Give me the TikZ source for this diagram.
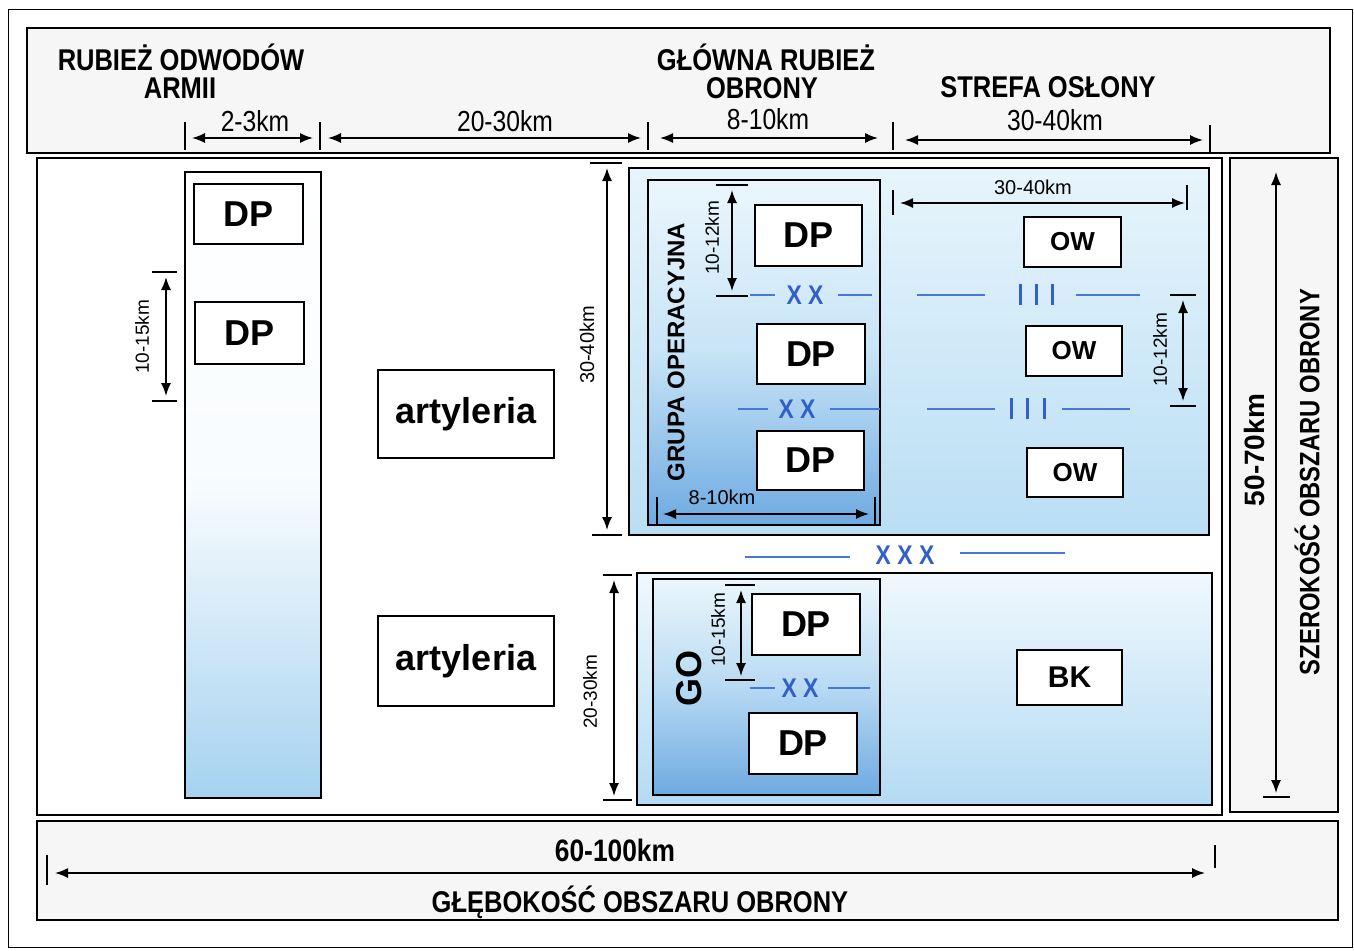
\documentclass[tikz,border=0pt]{standalone}
\usepackage{fontspec}
\setmainfont{Liberation Sans}
\newfontfamily\nar[FakeStretch=0.85]{Liberation Sans}
\usetikzlibrary{arrows.meta}
\definecolor{divblue}{RGB}{70,120,215}
\definecolor{xblue}{RGB}{50,95,200}
\definecolor{lb1}{RGB}{165,210,240}
\definecolor{lb2}{RGB}{110,170,225}
\definecolor{lb3}{RGB}{215,238,250}
\definecolor{lb4}{RGB}{185,222,244}
\definecolor{hdrgray}{RGB}{246,246,246}
\tikzset{
  frame/.style={draw, line width=1.6pt, inner sep=0pt, outer sep=0pt},
  unitbox/.style={draw, line width=2pt, fill=white, inner sep=0pt, outer sep=0pt, font=\bfseries\fontsize{36}{40}\selectfont},
  owbox/.style={unitbox, font=\bfseries\fontsize{26}{30}\selectfont},
  bkbox/.style={unitbox, font=\bfseries\fontsize{30}{34}\selectfont},
  hdr/.style={font=\nar\bfseries\fontsize{30}{34}\selectfont, inner sep=0pt},
  dimlab/.style={font=\nar\fontsize{29}{32}\selectfont, inner sep=0pt},
  smlab/.style={font=\fontsize{19}{22}\selectfont, inner sep=0pt},
  dimarrow/.style={line width=1.6pt, {Latex[length=13pt,width=10pt]}-{Latex[length=13pt,width=10pt]}},
  tick/.style={line width=1.4pt},
  divline/.style={line width=2.6pt, divblue},
  xlab/.style={font=\nar\bfseries\fontsize{27}{30}\selectfont, text=xblue, inner sep=0pt},
  bar/.style={line width=3pt, xblue}
}
\begin{document}
\begin{tikzpicture}[x=1pt,y=-1pt]
\useasboundingbox (0,0) rectangle (1354,950);
\fill[white] (0,0) rectangle (1354,950);
% outer frame
\draw[line width=1pt] (8,10) rectangle (1352,947);
% header box
\node[frame, fill=hdrgray, minimum width=1303pt, minimum height=125pt, anchor=north west] (header) at (27,28) {};
% main area and side boxes
\node[frame, line width=2.2pt, minimum width=1185pt, minimum height=657pt, anchor=north west] (mainarea) at (37,158) {};
\node[frame, fill=hdrgray, minimum width=108pt, minimum height=654pt, anchor=north west] (sidebox) at (1230,158) {};
\node[frame, fill=hdrgray, minimum width=1301pt, minimum height=99pt, anchor=north west] (bottombox) at (37,821) {};

% header labels
\node[hdr] (h1) at (181,57) {RUBIEŻ ODWODÓW};
\node[hdr] (h2) at (180,88) {ARMII};
\node[hdr] (h3) at (766,57) {GŁÓWNA RUBIEŻ};
\node[hdr] (h4) at (762,88) {OBRONY};
\node[hdr] (h5) at (1048,87) {STREFA OSŁONY};
% header dimension row
\foreach \x in {185,320,648,893} \draw[tick] (\x,122) -- (\x,150);
\draw[tick] (1210,125) -- (1210,152);
\draw[dimarrow] (192,138) -- (313,138);
\draw[dimarrow] (328,138) -- (641,138);
\draw[dimarrow] (660,138) -- (878,138);
\draw[dimarrow] (905,140) -- (1203,140);
\node[dimlab] (d1) at (255,121) {2-3km};
\node[dimlab] (d2) at (505,121) {20-30km};
\node[dimlab] (d3) at (768,119) {8-10km};
\node[dimlab] (d4) at (1055,120) {30-40km};

% left column (army reserves)
\node[frame, line width=2pt, top color=white, bottom color=lb1, middle color=white!92!lb1, minimum width=136pt, minimum height=626pt, anchor=north west] (reserve) at (185,172) {};
\node[unitbox, minimum width=109pt, minimum height=60pt] (dpA) at (248.5,214) {DP};
\node[unitbox, minimum width=109pt, minimum height=62pt] (dpB) at (249.5,333) {DP};
\draw[tick] (152,272) -- (177,272);
\draw[tick] (152,401) -- (177,401);
\draw[dimarrow] (166,277) -- (166,396);
\node[smlab, rotate=90] (l1) at (142,337) {10-15km};

% artillery
\node[unitbox, minimum width=176pt, minimum height=88pt] (art1) at (466,414) {artyleria};
\node[unitbox, minimum width=176pt, minimum height=90pt] (art2) at (466,661) {artyleria};

% upper operational group area
\node[frame, line width=2pt, top color=white!40!lb3, bottom color=lb4, minimum width=580pt, minimum height=367pt, anchor=north west] (upper) at (629,168) {};
\node[frame, line width=2pt, top color=white!50!lb3, bottom color=lb2, middle color=lb3!85!lb2, minimum width=232pt, minimum height=345pt, anchor=north west] (go1) at (648,180) {};
\draw[tick] (590,163) -- (622,163);
\draw[tick] (592,535) -- (622,535);
\draw[dimarrow] (607,168) -- (607,530);
\node[smlab, font=\fontsize{20}{22}\selectfont, rotate=90] (l2) at (587,345) {30-40km};
\node[rotate=90, font=\bfseries\fontsize{24}{26}\selectfont, inner sep=0pt] (golab1) at (676,352) {GRUPA OPERACYJNA};
\node[unitbox, minimum width=107pt, minimum height=61pt] (dp1) at (808.5,235.5) {DP};
\node[unitbox, minimum width=108pt, minimum height=60pt] (dp2) at (811,354) {DP};
\node[unitbox, minimum width=107pt, minimum height=59pt] (dp3) at (810.5,460.5) {DP};
\node[owbox, minimum width=97pt, minimum height=50pt] (ow1) at (1072.5,242) {OW};
\node[owbox, minimum width=96pt, minimum height=50pt] (ow2) at (1074,351) {OW};
\node[owbox, minimum width=96pt, minimum height=49pt] (ow3) at (1075,472.5) {OW};
% inner dimensions
\draw[tick] (716,185) -- (748,185);
\draw[tick] (716,296) -- (748,296);
\draw[dimarrow] (732,190) -- (732,291);
\node[smlab, rotate=90] (l3) at (712,238) {10-12km};
\draw[tick] (657,497) -- (657,525);
\draw[tick] (875,497) -- (875,525);
\draw[dimarrow] (663,514) -- (869,514);
\node[smlab, font=\fontsize{20}{22}\selectfont] (l4) at (722,497) {8-10km};
\draw[tick] (893,190) -- (893,215);
\draw[tick] (1187,185) -- (1187,210);
\draw[dimarrow] (900,203) -- (1185,203);
\node[smlab, font=\fontsize{20}{22}\selectfont] (l5) at (1033,187) {30-40km};
\draw[tick] (1170,295) -- (1196,295);
\draw[tick] (1170,406) -- (1196,406);
\draw[dimarrow] (1183,300) -- (1183,401);
\node[smlab, rotate=90] (l6) at (1160,350) {10-12km};
% boundary markers (upper)
\draw[divline] (750,295) -- (775,295);
\node[xlab] (xx1) at (805,295) {X X};
\draw[divline] (838,295) -- (872,295);
\draw[divline] (917,295) -- (985,295);
\foreach \x in {1020,1036,1052} \draw[bar] (\x,284) -- (\x,305);
\draw[divline] (1076,295) -- (1140,295);
\draw[divline] (738,409) -- (768,409);
\node[xlab] (xx2) at (797,409) {X X};
\draw[divline] (830,409) -- (880,409);
\draw[divline] (927,409) -- (995,409);
\foreach \x in {1011,1027,1044} \draw[bar] (\x,398) -- (\x,419);
\draw[divline] (1062,409) -- (1130,409);
% army boundary
\draw[divline] (745,557) -- (850,557);
\node[xlab] (xxx) at (905,555) {X X X};
\draw[divline] (960,553) -- (1065,553);

% lower operational group area
\node[frame, line width=2pt, top color=white!60!lb3, bottom color=lb1!70!lb3, minimum width=575pt, minimum height=232pt, anchor=north west] (lower) at (637,573) {};
\node[frame, line width=2.4pt, top color=white!50!lb3, bottom color=lb2, middle color=lb3!70!lb2, minimum width=227pt, minimum height=216pt, anchor=north west] (go2) at (653,579) {};
\node[rotate=90, font=\bfseries\fontsize{36}{40}\selectfont, inner sep=0pt] (golab2) at (689,678) {GO};
\node[unitbox, minimum width=108pt, minimum height=61pt] (dp4) at (806,624.5) {DP};
\node[unitbox, minimum width=108pt, minimum height=61pt] (dp5) at (803,743.5) {DP};
\node[bkbox, minimum width=105pt, minimum height=55pt] (bk) at (1069.5,677.5) {BK};
\draw[tick] (725,585) -- (755,585);
\draw[tick] (725,680) -- (755,680);
\draw[dimarrow] (741,590) -- (741,676);
\node[smlab, rotate=90] (l7) at (718,630) {10-15km};
\draw[divline] (750,688) -- (775,688);
\node[xlab] (xx3) at (800,688) {X X};
\draw[divline] (828,688) -- (870,688);
\draw[tick] (603,575) -- (632,575);
\draw[tick] (603,800) -- (632,800);
\draw[dimarrow] (614,580) -- (614,796);
\node[smlab, rotate=90] (l8) at (590,692) {20-30km};

% width of the defence area
\draw[dimarrow, line width=1.4pt] (1276,172) -- (1276,793);
\draw[tick] (1263,797) -- (1290,797);
\node[rotate=90, font=\bfseries\fontsize{28}{30}\selectfont, inner sep=0pt] (w1) at (1254,450) {50-70km};
\node[rotate=90, hdr, font=\nar\bfseries\fontsize{28}{30}\selectfont] (w2) at (1307,482) {SZEROKOŚĆ OBSZARU OBRONY};

% depth of the defence area
\node[font=\nar\bfseries\fontsize{31}{34}\selectfont, inner sep=0pt] (g1) at (615,850) {60-100km};
\draw[dimarrow] (55,873) -- (1205,873);
\draw[tick] (47,855) -- (47,885);
\draw[tick] (1215,845) -- (1215,868);
\node[hdr] (g2) at (640,902) {GŁĘBOKOŚĆ OBSZARU OBRONY};
\end{tikzpicture}
\end{document}
